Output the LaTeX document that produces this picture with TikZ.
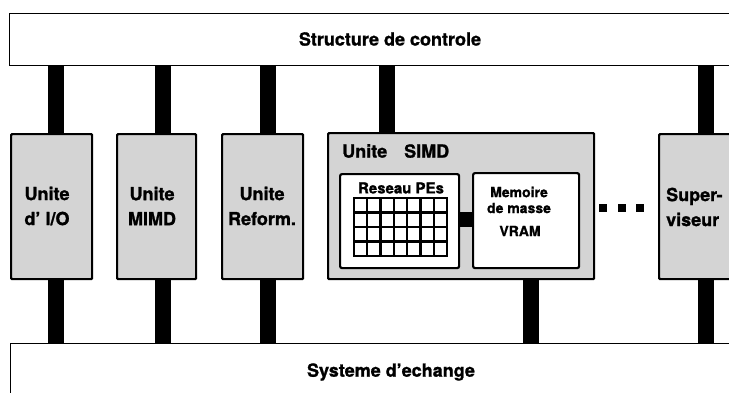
\documentclass[tikz,border=0pt]{standalone}
\usepackage{fontspec}
\setmainfont{TeX Gyre Heros}[BoldFeatures={FakeBold=1.2}]
\begin{document}
\begin{tikzpicture}[x=1pt,y=-1pt,
  box/.style={draw=black, line width=1.4pt, fill=white, inner sep=0pt, anchor=north west},
  unit/.style={draw=black, line width=2.2pt, fill=black!17, rounded corners=1pt, inner sep=0pt, anchor=north west, minimum height=145pt},
  inbox/.style={draw=black, line width=2.2pt, fill=white, rounded corners=2pt, inner sep=0pt, anchor=north west},
  bar/.style={line width=16pt, draw=black},
  big/.style={font=\bfseries\fontsize{18}{25}\selectfont, align=center, inner sep=0pt},
  small/.style={font=\bfseries\fontsize{14}{16}\selectfont, inner sep=0pt}]
\useasboundingbox (0,0) rectangle (729,392);
\clip (0,0) rectangle (729,392);
% bus boxes
\node[box, minimum width=740pt, minimum height=52pt] (top) at (9,13) {};
\node[box, minimum width=740pt, minimum height=70pt] (bot) at (10,343) {};
\node[big] (ttop) at (390,39) {Structure de controle};
\node[big] (tbot) at (391,372) {Systeme d'echange};
% units
\node[unit, minimum width=81pt] (u1) at (10,133) {};
\node[unit, minimum width=79pt] (u2) at (116,133) {};
\node[unit, minimum width=81pt] (u3) at (221,133) {};
\node[unit, minimum width=266pt, minimum height=146pt] (simd) at (327,132) {};
\node[unit, minimum width=90pt] (sup) at (658,133) {};
% bar x positions
\coordinate (a1) at (56,0);
\coordinate (a2) at (162.5,0);
\coordinate (a3) at (267.5,0);
\coordinate (a4) at (386.5,0);
\coordinate (a5) at (705.5,0);
\coordinate (b3) at (268,0);
\coordinate (b4) at (531,0);
\coordinate (b5) at (706,0);
\draw[bar] (a1 |- top.south) -- (a1 |- u1.north);
\draw[bar] (a2 |- top.south) -- (a2 |- u2.north);
\draw[bar] (a3 |- top.south) -- (a3 |- u3.north);
\draw[bar] (a4 |- top.south) -- (a4 |- simd.north);
\draw[bar] (a5 |- top.south) -- (a5 |- sup.north);
\draw[bar] (a1 |- u1.south) -- (a1 |- bot.north);
\draw[bar] (a2 |- u2.south) -- (a2 |- bot.north);
\draw[bar] (b3 |- u3.south) -- (b3 |- bot.north);
\draw[bar] (b4 |- simd.south) -- (b4 |- bot.north);
\draw[bar] (b5 |- sup.south) -- (b5 |- bot.north);
% unit texts
\node[big] (t1) at (47,206) {Unite\\d' I/O};
\node[big] (t2) at (152,206) {Unite\\MIMD};
\node[big] (t3) at (262,206) {Unite\\Reform.};
\node[big, align=left, anchor=west] (t5) at (666,207) {Super-\\viseur};
% SIMD interior
\node[big, anchor=west] (tsimd) at (342,151) {Unite\hspace{17pt}SIMD};
\node[inbox, minimum width=119pt, minimum height=94pt] (pes) at (339,173) {};
\node[inbox, minimum width=106pt, minimum height=95pt] (mem) at (472,172) {};
\coordinate (cy) at (0,219.5);
\draw[line width=15pt] (pes.east |- cy) -- (mem.west |- cy);
\node[small, font=\bfseries\fontsize{15}{16}\selectfont] (tpes) at (401,188) {Reseau PEs};
\node[small] (tm1) at (519,192) {Memoire};
\node[small] (tm2) at (519,208) {de masse};
\node[small] (tm3) at (520,231) {VRAM};
% PE grid
\fill[white] (354,198) rectangle (447,256);
\foreach \i in {0,...,7} \draw[line width=2.4pt] ({354+\i*93/7},198) -- ({354+\i*93/7},256);
\foreach \j in {0,...,4} \draw[line width=2.4pt] (353,{198+\j*14.5}) -- (448,{198+\j*14.5});
% dots
\foreach \x in {603,622,640} \fill ({\x-4},204) rectangle ({\x+4},212);
\end{tikzpicture}
\end{document}
